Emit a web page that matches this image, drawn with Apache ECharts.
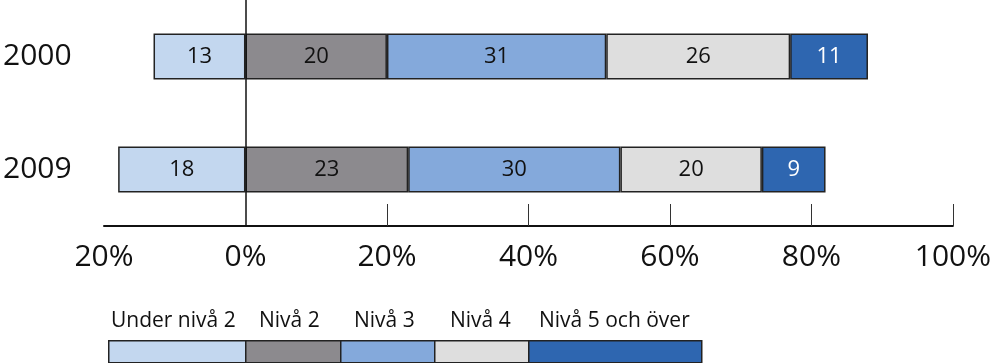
<!DOCTYPE html>
<html>
<head>
<meta charset="utf-8">
<script src="https://cdn.jsdelivr.net/npm/echarts@6/dist/echarts.min.js"></script>
<style>html,body{margin:0;padding:0;background:#fff}#c{width:994px;height:363px}</style>
</head>
<body>
<div id="c"></div>
<script>
var years = ['2000', '2009'];
var seriesNames = ['Under nivå 2', 'Nivå 2', 'Nivå 3', 'Nivå 4', 'Nivå 5 och över'];
var underNiva2 = [-13, -18];
var niva2 = [20, 23];
var niva3 = [31, 30];
var niva4 = [26, 20];
var niva5 = [11, 9];
var tickValues = [20, 40, 60, 80, 100];
var labelValues = [-20, 0, 20, 40, 60, 80, 100];

var colors = ['#c3d7ef', '#8c8a8e', '#84a9db', '#dedede', '#2e66b0'];
var labelColors = ['#111', '#111', '#111', '#111', '#fff'];
var FONT = 'Open Sans';
var allData = [underNiva2, niva2, niva3, niva4, niva5];

var series = seriesNames.map(function (name, i) {
  var s = {
    name: name,
    type: 'bar',
    stack: 'total',
    barWidth: 46,
    data: allData[i],
    itemStyle: { color: colors[i], borderColor: '#222', borderWidth: 1.5 },
    label: {
      show: true, position: 'inside', fontFamily: FONT, fontSize: 22,
      color: labelColors[i],
      formatter: function (p) { return Math.abs(p.value); }
    },
    emphasis: { disabled: true },
    silent: true
  };
  if (i === 0) {
    s.markLine = {
      symbol: 'none', silent: true, label: { show: false },
      lineStyle: { color: '#111', width: 1.5, type: 'solid' },
      data: [{ xAxis: 0 }]
    };
  }
  return s;
});

// legend (graphic): boxes contiguous, labels above
var legendWidths = [137, 95, 94, 94, 173];
var legendTextOffsets = [3, 14, 14, 16, 11];
var legendLeft = 108, legendTop = 340, legendH = 22;
var graphics = [];
var x = legendLeft;
seriesNames.forEach(function (name, i) {
  graphics.push({
    type: 'rect', left: x, top: legendTop,
    shape: { width: legendWidths[i], height: legendH },
    style: { fill: colors[i], stroke: '#222', lineWidth: 1.5 }
  });
  graphics.push({
    type: 'text', left: x + legendTextOffsets[i], top: 311,
    style: { text: name, font: '21px "' + FONT + '"', fill: '#111' }
  });
  x += legendWidths[i];
});

var chart = echarts.init(document.getElementById('c'), null, { renderer: 'canvas' });
chart.setOption({
  animation: false,
  backgroundColor: '#fff',
  grid: { left: 101, right: 35, top: 0, height: 226, containLabel: false },
  xAxis: {
    type: 'value', min: -20, max: 100, interval: 20,
    axisLine: { show: true, onZero: false, lineStyle: { color: '#111', width: 2 } },
    axisTick: { show: true, inside: true, length: 22, customValues: tickValues,
      lineStyle: { color: '#333', width: 1 } },
    axisLabel: { customValues: labelValues, fontFamily: FONT, fontSize: 30, color: '#111', margin: 16,
      formatter: function (v) { return Math.abs(v) + '%'; } },
    splitLine: { show: false }
  },
  yAxis: {
    type: 'category', data: years, inverse: true,
    axisLine: { show: false, onZero: false },
    axisTick: { show: false },
    axisLabel: { fontFamily: FONT, fontSize: 30, color: '#111', align: 'left', margin: 101 }
  },
  series: series,
  graphic: graphics
});
</script>
</body>
</html>
